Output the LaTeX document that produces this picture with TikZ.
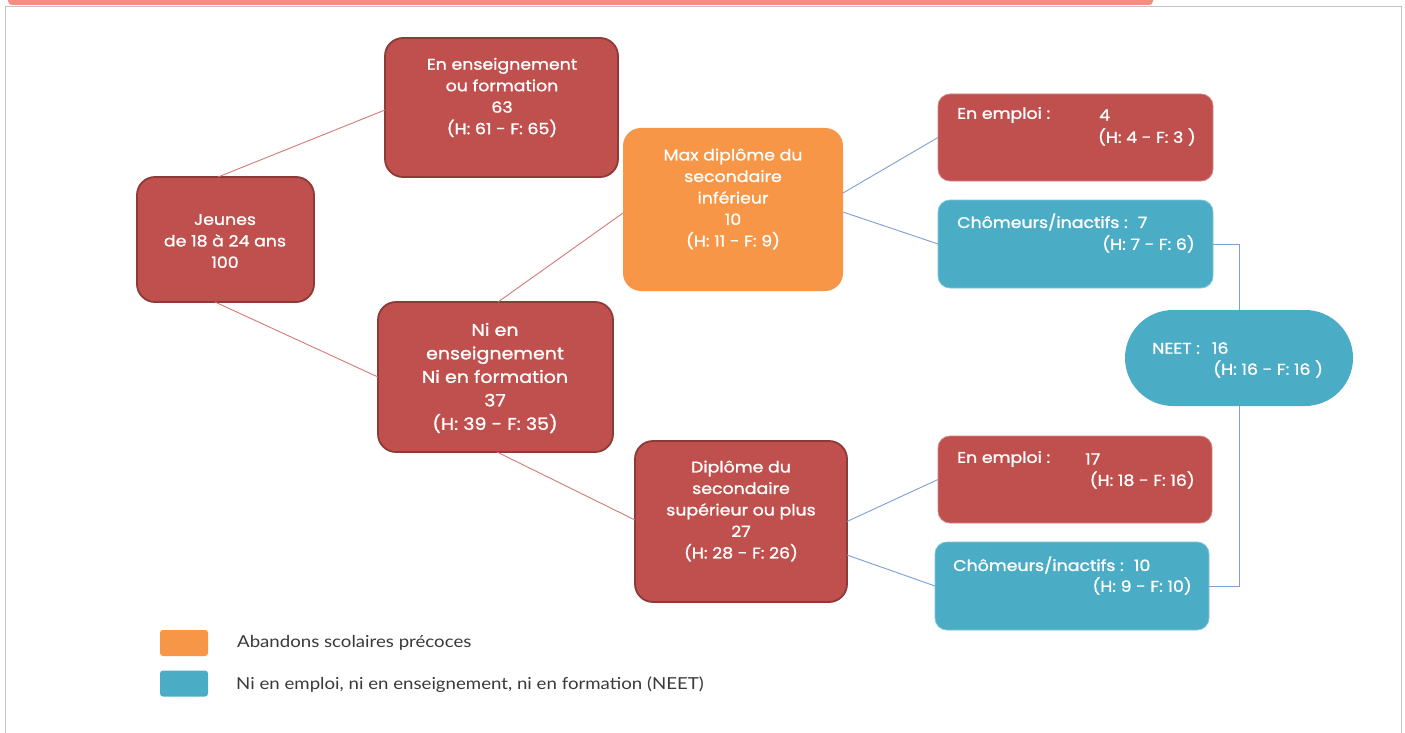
\documentclass[tikz,border=0pt]{standalone}
\usepackage{fontspec}
\setmainfont{Poppins}[FakeBold=1.2, FakeStretch=1.12]
\newfontfamily\legfont{Lato}[FakeStretch=1.13]
\definecolor{boxred}{HTML}{C0504D}
\definecolor{redborder}{HTML}{8E3A37}
\definecolor{boxorange}{HTML}{F79646}
\definecolor{boxblue}{HTML}{4BACC6}
\definecolor{conred}{HTML}{D27A78}
\definecolor{conblue}{HTML}{7E9FD6}
\definecolor{topbar}{HTML}{F58D80}
\definecolor{framegray}{HTML}{C4C4C4}
\definecolor{legtext}{HTML}{3A3A3A}
\tikzset{
  basebox/.style={inner sep=0pt, outer sep=0pt, rounded corners=18pt},
  redbox/.style={basebox, fill=boxred, draw=redborder, line width=1.8pt},
  orangebox/.style={basebox, fill=boxorange},
  leafred/.style={basebox, rounded corners=12pt, fill=boxred, draw=boxred!70!white, line width=0.8pt},
  leafblue/.style={basebox, rounded corners=12pt, fill=boxblue, draw=boxblue!70!white, line width=0.8pt},
  boxtxt/.style={text=white, align=center, inner sep=0pt, font=\fontsize{15.5}{21.5}\selectfont},
  bigtxt/.style={text=white, align=center, inner sep=0pt, font=\fontsize{17}{23.5}\selectfont},
  leaftxt/.style={text=white, inner sep=0pt, font=\fontsize{15.5}{18}\selectfont},
  conr/.style={draw=conred, line width=0.9pt},
  conb/.style={draw=conblue, line width=0.9pt},
  legsq/.style={inner sep=0pt, rounded corners=3pt, minimum width=48pt, minimum height=26pt},
  legtxt/.style={text=legtext, inner sep=0pt, anchor=west, font=\legfont\fontsize{16.5}{18}\selectfont}
}
\begin{document}
\begin{tikzpicture}[x=1pt,y=-1pt]
\clip (0,0) rectangle (1405,733);
\fill[white] (0,0) rectangle (1405,733);
% frame
\draw[framegray, line width=1pt] (5,733) -- (5,6.5) -- (1401,6.5) -- (1401,733);
\fill[topbar, rounded corners=4pt] (8,-10) rectangle (1153,5);
% boxes
\node[redbox, minimum width=177pt, minimum height=125pt] (jeunes) at (225.5,239.5) {};
\node[redbox, minimum width=233pt, minimum height=139pt] (enf) at (501.5,107.5) {};
\node[redbox, minimum width=235pt, minimum height=150pt] (nien) at (495.5,377) {};
\node[orangebox, minimum width=220pt, minimum height=163pt] (maxd) at (733,209.5) {};
\node[redbox, minimum width=212pt, minimum height=161pt] (dipl) at (741,521.5) {};
\node[leafred, minimum width=275pt, minimum height=87pt] (emp4) at (1075.5,137.5) {};
\node[leafblue, minimum width=275pt, minimum height=88pt] (cho7) at (1075.5,244) {};
\node[basebox, rounded corners=48pt, fill=boxblue, minimum width=228pt, minimum height=96pt] (neet) at (1239,358) {};
\node[leafred, minimum width=274pt, minimum height=87pt] (emp17) at (1075,479.5) {};
\node[leafblue, minimum width=274pt, minimum height=88pt] (cho10) at (1072,586) {};
% texts
\node[boxtxt] (tjeunes) at (225,241) {Jeunes\\de 18 à 24 ans\\100};
\node[boxtxt] (tenf) at (502,97.5) {En enseignement\\ou formation\\63\\(H: 61 - F: 65)};
\node[bigtxt] (tnien) at (495,378) {Ni en\\enseignement\\Ni en formation\\37\\(H: 39 - F: 35)};
\node[boxtxt] (tmaxd) at (733,199) {Max diplôme du\\secondaire\\inférieur\\10\\(H: 11 - F: 9)};
\node[boxtxt] (tdipl) at (741,511) {Diplôme du\\secondaire\\supérieur ou plus\\27\\(H: 28 - F: 26)};
\node[leaftxt, anchor=west] (te4a) at (957,115) {En emploi :};
\node[leaftxt, anchor=west] (te4b) at (1099,115) {4};
\node[leaftxt, anchor=east] (te4c) at (1196,137) {(H: 4 - F: 3 )};
\node[leaftxt, anchor=west] (tc7a) at (957,222) {Chômeurs/inactifs :\hspace{4pt} 7};
\node[leaftxt, anchor=east] (tc7b) at (1195,244) {(H: 7 - F: 6)};
\node[leaftxt, anchor=west] (tna) at (1152,348) {NEET :\hspace{12pt}16};
\node[leaftxt, anchor=west] (tnb) at (1213,369) {(H: 16 - F: 16 )};
\node[leaftxt, anchor=west] (te17a) at (957,459) {En emploi :};
\node[leaftxt, anchor=west] (te17b) at (1085,459) {17};
\node[leaftxt, anchor=east] (te17c) at (1195,480) {(H: 18 - F: 16)};
\node[leaftxt, anchor=west] (tc10a) at (953,565) {Chômeurs/inactifs :\hspace{4pt} 10};
\node[leaftxt, anchor=east] (tc10b) at (1192,586) {(H: 9 - F: 10)};
% connectors
\draw[conr] ([xshift=-7.5pt]jeunes.north) -- ([yshift=-2.5pt]enf.west);
\draw[conr] ([xshift=-10.5pt]jeunes.south) -- (nien.west);
\draw[conr] ([xshift=2.5pt]nien.north) -- ([yshift=-3.5pt]maxd.west);
\draw[conr] ([xshift=1.5pt]nien.south) -- ([yshift=1.5pt]dipl.west);
\draw[conb] ([yshift=16.5pt]maxd.east) -- (emp4.west);
\draw[conb] ([yshift=-2.5pt]maxd.east) -- (cho7.west);
\draw[conb] (dipl.east) -- (emp17.west);
\draw[conb] ([yshift=-33.5pt]dipl.east) -- (cho10.west);
\draw[conb] (cho7.east) -| (neet.north);
\draw[conb] (neet.south) |- (cho10.east);
% legend
\node[legsq, fill=boxorange] (lorange) at (184,643) {};
\node[legsq, fill=boxblue] (lblue) at (184,683.5) {};
\node[legtxt] (ltxt1) at (237,643) {Abandons scolaires précoces};
\node[legtxt] (ltxt2) at (236,685) {Ni en emploi, ni en enseignement, ni en formation (NEET)};
\end{tikzpicture}
\end{document}
